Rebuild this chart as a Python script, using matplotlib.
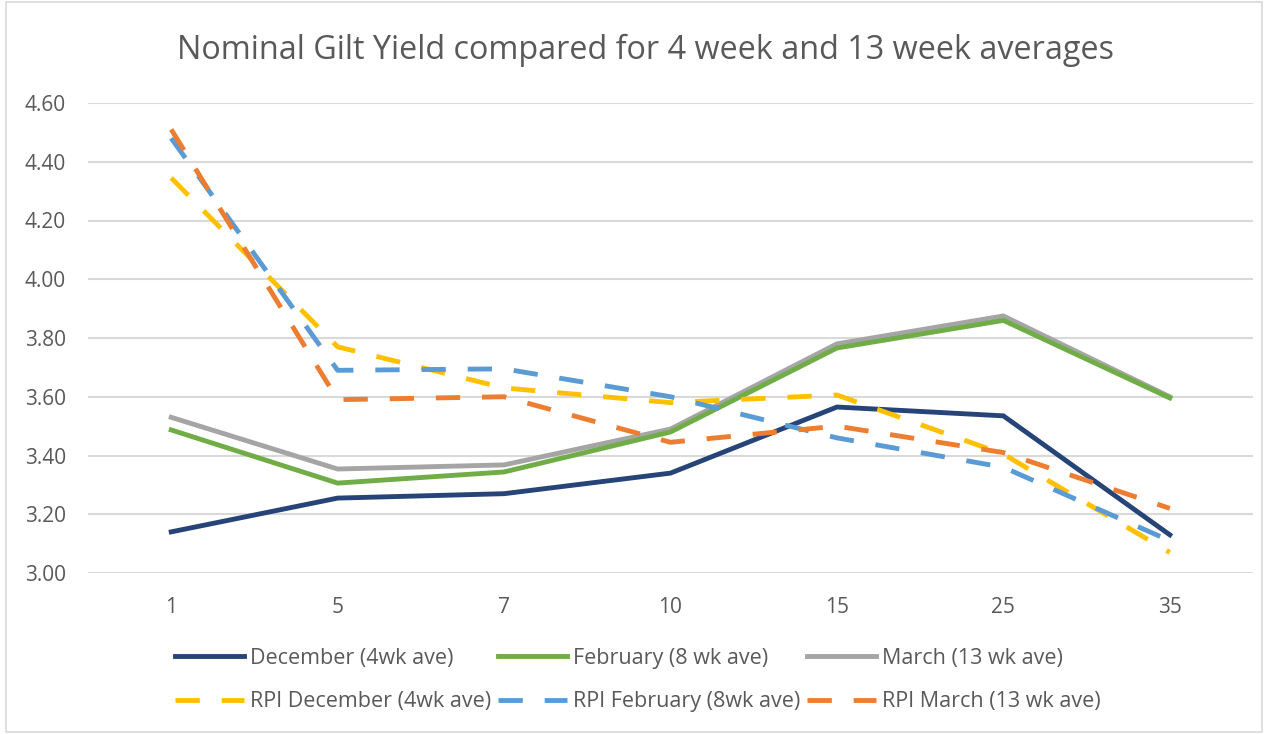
import matplotlib
matplotlib.use('Agg')
from matplotlib import pyplot as plt
from matplotlib.patches import Rectangle

plt.rcParams['font.family'] = ['Open Sans', 'DejaVu Sans']

maturities = ['1', '5', '7', '10', '15', '25', '35']

december = [3.14, 3.255, 3.27, 3.34, 3.565, 3.535, 3.13]
february = [3.487, 3.306, 3.344, 3.48, 3.766, 3.86, 3.596]
march = [3.53, 3.354, 3.368, 3.49, 3.78, 3.875, 3.60]
rpi_december = [4.345, 3.77, 3.63, 3.58, 3.606, 3.405, 3.07]
rpi_february = [4.48, 3.69, 3.695, 3.60, 3.46, 3.36, 3.11]
rpi_march = [4.51, 3.59, 3.60, 3.445, 3.50, 3.41, 3.22]

series = [
    ('December (4wk ave)', december, '#264478', '-'),
    ('February (8 wk ave)', february, '#70ad47', '-'),
    ('March (13 wk ave)', march, '#a5a5a5', '-'),
    ('RPI December (4wk ave)', rpi_december, '#ffc000', '--'),
    ('RPI February (8wk ave)', rpi_february, '#5b9bd5', '--'),
    ('RPI March (13 wk ave)', rpi_march, '#ed7d31', '--'),
]

fig = plt.figure(figsize=(12.68, 7.34), dpi=100)
ax = fig.add_axes([88 / 1268, 161 / 734, 1165 / 1268, 470 / 734])

xs = list(range(len(maturities)))
handles = []
for label, ys, color, ls in series:
    if ls == '-':
        ln, = ax.plot(xs, ys, color=color, lw=3.5, label=label,
                      solid_joinstyle='miter', zorder=3)
    else:
        ln, = ax.plot(xs, ys, color=color, lw=3.5, label=label,
                      dashes=(5, 4.5), dash_capstyle='butt', zorder=4)
    handles.append(ln)
# green drawn on top of grey
handles[1].set_zorder(3.5)

ax.set_xlim(-0.5, len(maturities) - 0.5)
ax.set_ylim(3.0, 4.6)
ax.set_yticks([3.0, 3.2, 3.4, 3.6, 3.8, 4.0, 4.2, 4.4, 4.6])
ax.set_yticklabels(['{:.2f}'.format(v) for v in ax.get_yticks()])
ax.set_xticks(xs)
ax.set_xticklabels(maturities)
ax.tick_params(length=0, labelsize=15, colors='#595959')
ax.tick_params(axis='x', pad=17)
ax.tick_params(axis='y', pad=16)
ax.grid(axis='y', color='#d9d9d9', lw=1.5)
ax.set_axisbelow(True)
for s in ax.spines.values():
    s.set_visible(False)

fig.text(0.509, 0.932, 'Nominal Gilt Yield compared for 4 week and 13 week averages',
         ha='center', va='center', fontsize=23.3, color='#595959')

# legend filled row by row (matplotlib fills columns first)
leg_order = [0, 3, 1, 4, 2, 5]
fig.legend([handles[i] for i in leg_order], [series[i][0] for i in leg_order],
           loc='center', bbox_to_anchor=(0.503, 0.0736), ncol=3, frameon=False,
           fontsize=15.5, labelcolor='#595959', handlelength=3.2,
           handletextpad=0.3, columnspacing=0.3, labelspacing=1.05,
           borderpad=0, borderaxespad=0)

fig.patches.append(Rectangle((0.005, 0.003), 0.99, 0.994, transform=fig.transFigure,
                             fill=False, edgecolor='#d9d9d9', lw=1.2))

plt.savefig('out.png', dpi=100)
